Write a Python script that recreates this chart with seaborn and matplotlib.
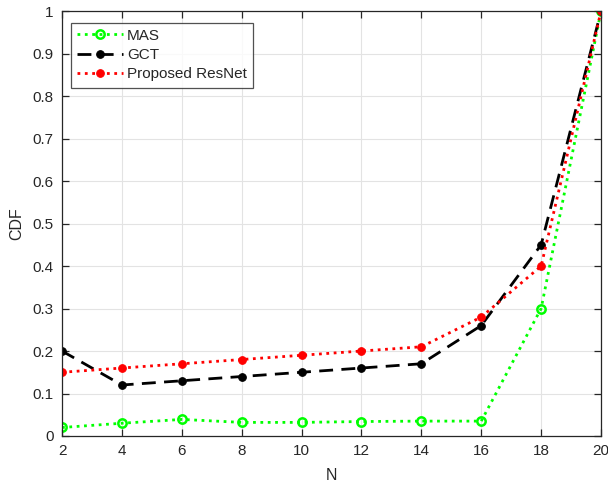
import matplotlib
matplotlib.use("Agg")
import matplotlib.pyplot as plt
import seaborn as sns
import pandas as pd

N = [2, 4, 6, 8, 10, 12, 14, 16, 18, 20]
mas = [0.02, 0.03, 0.039, 0.032, 0.032, 0.034, 0.035, 0.035, 0.30, 1.0]
gct = [0.20, 0.12, 0.13, 0.14, 0.15, 0.16, 0.17, 0.26, 0.45, 1.0]
proposed = [0.15, 0.16, 0.17, 0.18, 0.19, 0.20, 0.21, 0.28, 0.40, 1.0]
x_ticks = [2, 4, 6, 8, 10, 12, 14, 16, 18, 20]
y_ticks = [0, 0.1, 0.2, 0.3, 0.4, 0.5, 0.6, 0.7, 0.8, 0.9, 1]
y_tick_labels = ["0", "0.1", "0.2", "0.3", "0.4", "0.5", "0.6", "0.7", "0.8", "0.9", "1"]

sns.set_theme(style="whitegrid")
plt.rcParams["font.family"] = ["Liberation Sans", "DejaVu Sans"]

fig = plt.figure(figsize=(6.08, 4.88), dpi=100)
ax = fig.add_axes([0.102, 0.1066, 0.8865, 0.8704])

df = pd.DataFrame({"N": N, "MAS": mas, "GCT": gct, "Proposed ResNet": proposed})

sns.lineplot(data=df, x="N", y="MAS", ax=ax, color="#00ff00", linestyle=":",
             linewidth=2, marker="o", markersize=6, markerfacecolor="none",
             markeredgecolor="#00ff00", markeredgewidth=1.8, label="MAS")
sns.lineplot(data=df, x="N", y="GCT", ax=ax, color="black", linestyle=(0, (5, 3)),
             linewidth=2, marker="o", markersize=5.5, markerfacecolor="black",
             markeredgecolor="black", label="GCT")
sns.lineplot(data=df, x="N", y="Proposed ResNet", ax=ax, color="red", linestyle=":",
             linewidth=2, marker="o", markersize=5.5, markerfacecolor="red",
             markeredgecolor="red", label="Proposed ResNet")

ax.set_xlim(2, 20)
ax.set_ylim(0, 1)
ax.set_xticks(x_ticks)
ax.set_yticks(y_ticks)
ax.set_yticklabels(y_tick_labels)
ax.set_xlabel("N", fontsize=11.5, color="#262626", labelpad=7)
ax.set_ylabel("CDF", fontsize=11.5, color="#262626", labelpad=6)

ax.set_facecolor("white")
ax.grid(True, color="#e3e3e3", linewidth=0.8)
for s in ax.spines.values():
    s.set_visible(True)
    s.set_color("#262626")
    s.set_linewidth(0.9)
ax.tick_params(axis="both", which="both", direction="in", length=5, width=0.9,
               colors="#262626", labelsize=11, top=True, right=True,
               bottom=True, left=True, pad=6)

leg = ax.legend(loc="upper left", bbox_to_anchor=(0.016, 0.973), fontsize=11,
                frameon=True, fancybox=False, edgecolor="#262626",
                handlelength=3.0, borderpad=0.4, labelspacing=0.35,
                handletextpad=0.3, borderaxespad=0)
leg.get_frame().set_linewidth(0.9)

fig.savefig("out.png", dpi=100)
